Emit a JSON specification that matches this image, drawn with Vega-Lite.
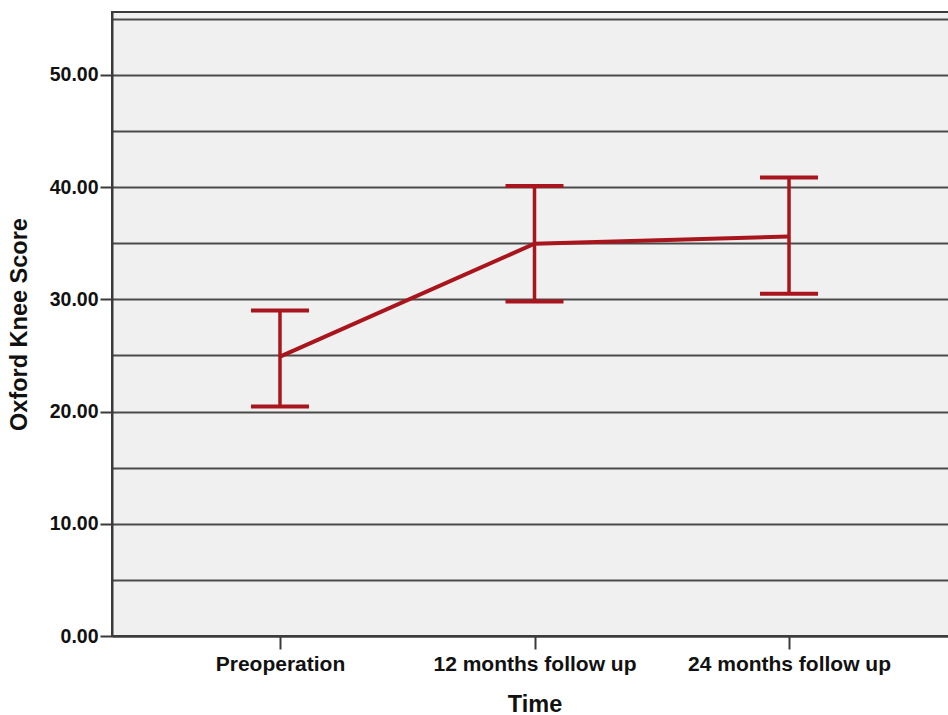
{
  "$schema": "https://vega.github.io/schema/vega-lite/v6.json",
  "autosize": {"type": "none"},
  "padding": {"left": 112, "top": 12, "right": 0, "bottom": 79},
  "width": 845,
  "height": 624,
  "background": "white",
  "config": {
    "view": {"fill": "#F0F0F0", "stroke": "#3a3a3a", "strokeWidth": 2},
    "font": "Liberation Sans"
  },
  "data": {
    "values": [
      {"time": "Preoperation", "mean": 24.9, "lower": 20.45, "upper": 29.0},
      {"time": "12 months follow up", "mean": 34.95, "lower": 29.8, "upper": 40.1},
      {"time": "24 months follow up", "mean": 35.6, "lower": 30.5, "upper": 40.85}
    ]
  },
  "encoding": {
    "x": {
      "field": "time",
      "type": "nominal",
      "sort": null,
      "scale": {"type": "point", "padding": 0.66},
      "axis": {
        "title": "Time",
        "labelAngle": 0,
        "labelLimit": 0,
        "labelFont": "Liberation Sans",
        "labelFontWeight": "bold",
        "labelFontSize": 21,
        "labelColor": "#111111",
        "labelPadding": 4,
        "tickSize": 13,
        "tickWidth": 2,
        "tickColor": "#3a3a3a",
        "domainColor": "#3a3a3a",
        "domainWidth": 2,
        "grid": false,
        "titleFont": "Liberation Sans",
        "titleFontWeight": "bold",
        "titleFontSize": 23.5,
        "titleColor": "#111111",
        "titlePadding": 18
      }
    }
  },
  "layer": [
    {
      "mark": {"type": "rule", "color": "#A8151C", "strokeWidth": 3.5},
      "encoding": {
        "y": {
          "field": "lower",
          "type": "quantitative",
          "scale": {"domain": [0, 55.6], "nice": false, "zero": true},
          "axis": {
            "title": "Oxford Knee Score",
            "values": [0, 5, 10, 15, 20, 25, 30, 35, 40, 45, 50, 55],
            "labelExpr": "datum.value % 10 === 0 ? format(datum.value, '.2f') : ''",
            "labelFont": "Liberation Sans",
            "labelFontWeight": "bold",
            "labelFontSize": 19.5,
            "labelColor": "#111111",
            "labelPadding": 2,
            "tickSize": 12,
            "tickWidth": 2,
            "tickColor": "#3a3a3a",
            "tickOpacity": {"condition": {"test": "datum.value % 10 !== 0", "value": 0}, "value": 1},
            "domainColor": "#3a3a3a",
            "domainWidth": 2,
            "grid": true,
            "gridColor": "#4a4a4a",
            "gridWidth": 2,
            "gridOpacity": 1,
            "titleFont": "Liberation Sans",
            "titleFontWeight": "bold",
            "titleFontSize": 23.5,
            "titleColor": "#111111",
            "titlePadding": 18
          }
        },
        "y2": {"field": "upper"}
      }
    },
    {
      "mark": {"type": "tick", "color": "#A8151C", "opacity": 1, "size": 58, "thickness": 4, "orient": "horizontal"},
      "encoding": {"y": {"field": "upper", "type": "quantitative"}}
    },
    {
      "mark": {"type": "tick", "color": "#A8151C", "opacity": 1, "size": 58, "thickness": 4, "orient": "horizontal"},
      "encoding": {"y": {"field": "lower", "type": "quantitative"}}
    },
    {
      "mark": {"type": "line", "color": "#A8151C", "strokeWidth": 4},
      "encoding": {"y": {"field": "mean", "type": "quantitative"}}
    }
  ]
}
